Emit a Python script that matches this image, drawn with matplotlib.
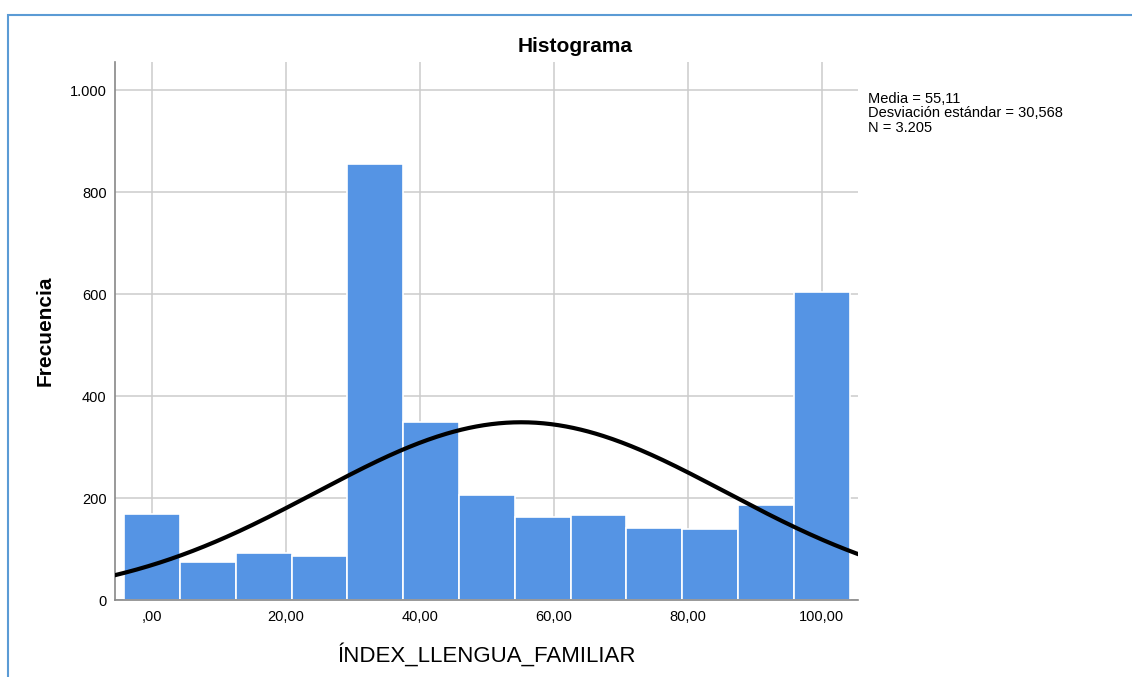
import numpy as np
import matplotlib.pyplot as plt
from matplotlib.patches import Rectangle

plt.rcParams['font.family'] = ['Liberation Sans', 'DejaVu Sans']

# bin counts (bins of width 100/12 centred on 0 .. 100)
counts = [169, 75, 92, 86, 855, 349, 206, 163, 167, 141, 139, 186, 604]
bin_width = 100 / 12
centers = np.arange(len(counts)) * bin_width

media = 55.11
desv = 30.568
n_total = 3205

xticks = [0, 20, 40, 60, 80, 100]
xticklabels = [',00', '20,00', '40,00', '60,00', '80,00', '100,00']
yticks = [0, 200, 400, 600, 800, 1000]
yticklabels = ['0', '200', '400', '600', '800', '1.000']

fig = plt.figure(figsize=(11.32, 6.77), dpi=100)
ax = fig.add_axes([0.1016, 0.1137, 0.6564, 0.7947])

ax.bar(centers, counts, width=bin_width, color='#5594e4', edgecolor='white',
       linewidth=1.2, zorder=2)

# normal curve from the reported statistics
xs = np.linspace(-5.6, 105.5, 400)
ys = n_total * bin_width * np.exp(-0.5 * ((xs - media) / desv) ** 2) / (desv * np.sqrt(2 * np.pi))
ax.plot(xs, ys, color='black', linewidth=3, zorder=3)

ax.set_xlim(-5.52, 105.4)
ax.set_ylim(0, 1055)
ax.set_xticks(xticks)
ax.set_xticklabels(xticklabels)
ax.set_yticks(yticks)
ax.set_yticklabels(yticklabels)
ax.tick_params(length=0, labelsize=10.5)
ax.tick_params(axis='y', pad=6)
ax.tick_params(axis='x', pad=7)
ax.grid(True, color='#cccccc', linewidth=1.1, zorder=0)
ax.set_axisbelow(True)
for s in ['top', 'right']:
    ax.spines[s].set_visible(False)
for s in ['left', 'bottom']:
    ax.spines[s].set_color('#888888')
    ax.spines[s].set_linewidth(1.2)

ax.set_xlabel('ÍNDEX_LLENGUA_FAMILIAR', fontsize=16, labelpad=14)
ax.set_ylabel('Frecuencia', fontsize=15, fontweight='bold', labelpad=11)

fig.text(0.508, 0.932, 'Histograma', ha='center', va='center',
         fontsize=15, fontweight='bold')
fig.text(0.767, 0.864,
         'Media = 55,11\nDesviación estándar = 30,568\nN = 3.205',
         ha='left', va='top', fontsize=10.5, linespacing=1.03)

fig.patches.append(Rectangle((8 / 1132, -0.1), 1.2, 1 - 15 / 677 + 0.1,
                             transform=fig.transFigure, fill=False,
                             edgecolor='#5b9bd5', linewidth=1.5))

fig.savefig('out.png', dpi=100)
